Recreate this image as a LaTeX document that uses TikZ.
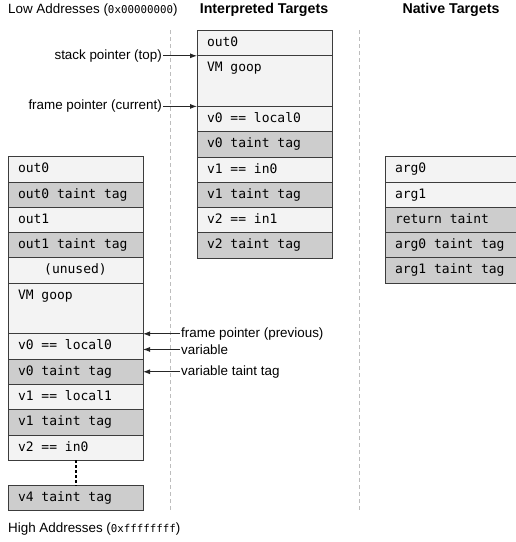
\documentclass[tikz,border=0pt]{standalone}
\usepackage{fontspec}
\setmainfont{Liberation Sans}
\setmonofont{DejaVu Sans Mono}
\usepackage{tikz}
\usetikzlibrary{positioning}
\usetikzlibrary{%
  calc,%
  arrows.meta%
}
\definecolor{cellfill}{HTML}{F3F3F3}
\definecolor{tagfill}{HTML}{CDCDCD}
\definecolor{cellline}{HTML}{3C3C3C}
\definecolor{sepline}{HTML}{BDBDBD}
\newcommand{\addr}[1]{{\fontsize{10.8}{12}\selectfont\ttfamily #1}}
\newcommand{\monospaces}{\spaceskip 0pt \xspaceskip 0pt }

\tikzset{
  cell/.style={draw=cellline, fill=cellfill, line width=0.9pt, outer sep=0pt,
    minimum width=135pt, text width=115pt, inner xsep=10pt, inner ysep=0pt,
    text height=16pt, text depth=9.3pt, align=left,
    font=\fontsize{13}{15}\selectfont\ttfamily,
    execute at begin node={\monospaces}},
  tag/.style={cell, fill=tagfill},
  goop/.style={cell, text depth=34.6pt},
  lbl/.style={inner sep=1pt, font=\fontsize{13.4}{15}\selectfont},
  head/.style={inner sep=1pt, font=\fontsize{14.2}{16}\selectfont\bfseries},
  ptr/.style={draw=black!85, line width=0.9pt, -{Latex[length=7pt,width=5pt]}},
  sep/.style={draw=sepline, line width=0.7pt, dash pattern=on 4pt off 3pt}
}

\begin{document}
\begin{tikzpicture}[x=1pt, y=-1pt]
\useasboundingbox (0,0) rectangle (516,542);

% separators
\draw[sep] (170.7,30) -- (170.7,511);
\draw[sep] (359,30) -- (359,511);

% headings
\node[lbl, anchor=west] (low) at (7,10) {Low Addresses (\addr{0x00000000})};
\node[head] (interp) at (264,10) {Interpreted Targets};
\node[head] (native) at (451,10) {Native Targets};
\node[lbl, anchor=west] (high) at (7,529) {High Addresses (\addr{0xffffffff})};

% interpreted frame
\node[cell, anchor=north west] (M0) at (197,30.5) {out0};
\node[goop, below=0pt of M0] (M1) {VM goop};
\node[cell, below=0pt of M1] (M2) {v0 == local0};
\node[tag, below=0pt of M2] (M3) {v0 taint tag};
\node[cell, below=0pt of M3] (M4) {v1 == in0};
\node[tag, below=0pt of M4] (M5) {v1 taint tag};
\node[cell, below=0pt of M5] (M6) {v2 == in1};
\node[tag, below=0pt of M6] (M7) {v2 taint tag};

% caller frame
\node[cell, anchor=north west] (L0) at (8,156.7) {out0};
\node[tag, below=0pt of L0] (L1) {out0 taint tag};
\node[cell, below=0pt of L1] (L2) {out1};
\node[tag, below=0pt of L2] (L3) {out1 taint tag};
\node[cell, below=0pt of L3, align=center] (L4) {(unused)};
\node[goop, below=0pt of L4] (L5) {VM goop};
\node[cell, below=0pt of L5] (L6) {v0 == local0};
\node[tag, below=0pt of L6] (L7) {v0 taint tag};
\node[cell, below=0pt of L7] (L8) {v1 == local1};
\node[tag, below=0pt of L8] (L9) {v1 taint tag};
\node[cell, below=0pt of L9] (L10) {v2 == in0};
\node[tag, below=25.3pt of L10] (L11) {v4 taint tag};

% native frame
\node[cell, anchor=north west] (R0) at (385,156.7) {arg0};
\node[cell, below=0pt of R0] (R1) {arg1};
\node[tag, below=0pt of R1] (R2) {return taint};
\node[tag, below=0pt of R2] (R3) {arg0 taint tag};
\node[tag, below=0pt of R3] (R4) {arg1 taint tag};

% pointers
\node[lbl, left=34pt of M0.south west] (sp) {stack pointer (top)};
\node[lbl, left=34pt of M1.south west] (fpc) {frame pointer (current)};
\node[lbl, right=37pt of L5.south east] (fpp) {frame pointer (previous)};
\node[lbl, right=37pt of L6.east, yshift=-3pt] (var) {variable};
\node[lbl, right=37pt of L7.east] (vtt) {variable taint tag};

\draw
	(sp) edge[ptr] (M0.south west)
	(fpc) edge[ptr] (M1.south west)
	(fpp) edge[ptr] (L5.south east)
	(var.west) edge[ptr] (var.west -| L6.east)
	(vtt) edge[ptr] (L7.east)
;
\draw[black, line width=2pt, dash pattern=on 2.4pt off 2.6pt] (L10.south) -- (L11.north);
\end{tikzpicture}
\end{document}
